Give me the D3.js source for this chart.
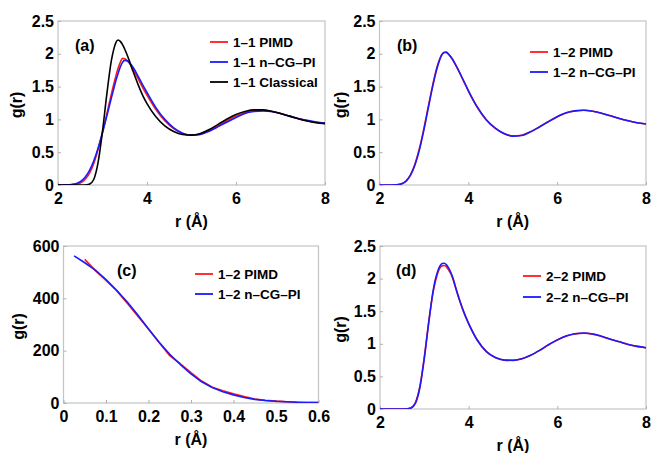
<!DOCTYPE html>
<html>
<head>
<meta charset="utf-8">
<script src="https://cdn.jsdelivr.net/npm/d3@7"></script>
<style>
  html, body { margin: 0; padding: 0; background: #fff; }
  svg { display: block; }
  text { font-family: "Liberation Sans", Arial, Helvetica, sans-serif; font-weight: bold; fill: #000; }
</style>
</head>
<body>
<svg id="fig" width="651" height="453"></svg>
<script>
// ---- radial grid (Å) shared by panels (a), (b), (d) ----
const rGrid = [2.0, 2.1, 2.2, 2.3, 2.4, 2.5, 2.6, 2.7, 2.8, 2.9, 3.0, 3.1, 3.2,
  3.25, 3.3, 3.35, 3.4, 3.45, 3.5, 3.55, 3.6, 3.65, 3.7, 3.8, 3.9, 4.0,
  4.2, 4.4, 4.6, 4.8, 5.0, 5.2, 5.4, 5.6, 5.8, 6.0, 6.2, 6.4, 6.6, 6.8,
  7.0, 7.2, 7.4, 7.6, 7.8, 8.0];

// (a) 1–1 pair
const g11Pimd = [0, 0, 0, 0.002, 0.01, 0.03, 0.08, 0.17, 0.32, 0.54, 0.80, 1.09, 1.39,
  1.53, 1.66, 1.78, 1.87, 1.93, 1.925, 1.90, 1.86, 1.81, 1.75, 1.62, 1.49, 1.37,
  1.15, 0.98, 0.86, 0.785, 0.76, 0.775, 0.83, 0.90, 0.98, 1.05, 1.10, 1.13, 1.135, 1.12,
  1.09, 1.05, 1.01, 0.98, 0.955, 0.94];
const g11Cg = [0, 0, 0.002, 0.008, 0.02, 0.05, 0.11, 0.21, 0.36, 0.56, 0.80, 1.06, 1.33,
  1.46, 1.59, 1.70, 1.80, 1.87, 1.90, 1.895, 1.87, 1.83, 1.78, 1.66, 1.53, 1.41,
  1.18, 1.00, 0.87, 0.79, 0.76, 0.77, 0.82, 0.89, 0.96, 1.03, 1.09, 1.12, 1.13, 1.12,
  1.09, 1.05, 1.015, 0.985, 0.96, 0.945];
const g11Classical = [0, 0, 0, 0, 0, 0, 0, 0.01, 0.08, 0.34, 0.82, 1.40, 1.90,
  2.06, 2.17, 2.21, 2.19, 2.14, 2.07, 1.99, 1.90, 1.80, 1.71, 1.53, 1.37, 1.24,
  1.04, 0.90, 0.815, 0.77, 0.76, 0.785, 0.845, 0.925, 1.005, 1.075, 1.12, 1.145, 1.145, 1.125,
  1.09, 1.05, 1.01, 0.975, 0.95, 0.935];

// (b) 1–2 pair
const g12Pimd = [0, 0, 0, 0.001, 0.005, 0.02, 0.065, 0.16, 0.325, 0.56, 0.865, 1.20, 1.53,
  1.68, 1.81, 1.91, 1.985, 2.02, 2.02, 1.995, 1.955, 1.905, 1.845, 1.715, 1.575, 1.435,
  1.185, 0.995, 0.868, 0.785, 0.748, 0.758, 0.812, 0.886, 0.966, 1.04, 1.098, 1.13, 1.14, 1.125,
  1.095, 1.055, 1.015, 0.98, 0.95, 0.93];
const g12Cg = [0, 0, 0, 0.001, 0.004, 0.018, 0.06, 0.15, 0.31, 0.54, 0.84, 1.18, 1.51,
  1.66, 1.79, 1.90, 1.98, 2.02, 2.025, 2.00, 1.96, 1.91, 1.85, 1.72, 1.58, 1.44,
  1.19, 1.00, 0.87, 0.785, 0.745, 0.755, 0.81, 0.885, 0.965, 1.04, 1.10, 1.13, 1.14, 1.125,
  1.095, 1.055, 1.015, 0.98, 0.95, 0.93];

// (d) 2–2 pair
const g22Pimd = [0, 0, 0, 0, 0, 0, 0.002, 0.02, 0.10, 0.35, 0.80, 1.34, 1.80,
  1.96, 2.08, 2.16, 2.195, 2.20, 2.18, 2.13, 2.07, 1.98, 1.87, 1.655, 1.465, 1.31,
  1.05, 0.88, 0.79, 0.752, 0.75, 0.772, 0.826, 0.90, 0.984, 1.058, 1.118, 1.152, 1.162, 1.148,
  1.113, 1.07, 1.03, 0.99, 0.96, 0.94];
const g22Cg = [0, 0, 0, 0, 0, 0, 0.001, 0.015, 0.09, 0.33, 0.78, 1.33, 1.82,
  1.99, 2.11, 2.19, 2.23, 2.235, 2.21, 2.16, 2.09, 2.00, 1.88, 1.66, 1.47, 1.31,
  1.05, 0.88, 0.79, 0.75, 0.745, 0.77, 0.825, 0.90, 0.985, 1.06, 1.12, 1.155, 1.165, 1.15,
  1.115, 1.07, 1.03, 0.99, 0.96, 0.94];

// (c) 1–2 short-range distribution
const rCPimd = [0.05, 0.075, 0.1, 0.125, 0.15, 0.175, 0.2, 0.225, 0.25, 0.275, 0.3, 0.325,
  0.35, 0.375, 0.4, 0.425, 0.45, 0.475, 0.5, 0.525, 0.55, 0.575, 0.6];
const gCPimd = [549, 506, 468, 429, 381, 332, 283, 231, 181, 150, 116, 84,
  60, 47, 35, 25, 15, 10, 7, 5, 3, 2, 1.5];
const rCCg = [0.025, 0.05, 0.075, 0.1, 0.125, 0.15, 0.175, 0.2, 0.225, 0.25, 0.275, 0.3, 0.325,
  0.35, 0.375, 0.4, 0.425, 0.45, 0.475, 0.5, 0.525, 0.55, 0.575, 0.6];
const gCCg = [562, 536, 508, 472, 431, 386, 336, 283, 232, 186, 147, 111, 81,
  59, 43, 31, 21, 14, 9.5, 6.5, 4.5, 3, 2, 1.5];

// axis ticks
const rTicks = [2, 4, 6, 8];
const gTicks = [0, 0.5, 1, 1.5, 2, 2.5];
const rTicksC = [0, 0.1, 0.2, 0.3, 0.4, 0.5, 0.6];
const gTicksC = [0, 200, 400, 600];

// legend entries per panel
const legendA = ["1\u20131 PIMD", "1\u20131 n\u2013CG\u2013PI", "1\u20131 Classical"];
const legendB = ["1\u20132 PIMD", "1\u20132 n\u2013CG\u2013PI"];
const legendC = ["1\u20132 PIMD", "1\u20132 n\u2013CG\u2013PI"];
const legendD = ["2\u20132 PIMD", "2\u20132 n\u2013CG\u2013PI"];

const RED = "#ff1a1a", BLUE = "#1a1aff", BLACK = "#000000";
const zip = (xs, ys) => xs.map((x, i) => [x, ys[i]]);

const svg = d3.select("#fig");

function panel(cfg) {
  const { left, right, top, bottom } = cfg.box;
  const x = d3.scaleLinear().domain(cfg.xDomain).range([left, right]);
  const y = d3.scaleLinear().domain(cfg.yDomain).range([bottom, top]);
  const g = svg.append("g");
  const clipId = "clip-" + cfg.tag;
  g.append("clipPath").attr("id", clipId).append("rect")
    .attr("x", left).attr("y", top - 2).attr("width", right - left).attr("height", bottom - top + 2);

  // frame
  g.append("rect").attr("x", left).attr("y", top)
    .attr("width", right - left).attr("height", bottom - top)
    .attr("fill", "none").attr("stroke", "#c4c4c4").attr("stroke-width", 1.2);

  // bottom axis: inward ticks, bold labels
  const xAxis = d3.axisBottom(x).tickValues(cfg.xTicks).tickSize(-3).tickPadding(8)
    .tickFormat(d => d3.format("")(d));
  const gx = g.append("g").attr("transform", `translate(0,${bottom})`).call(xAxis);
  gx.select(".domain").remove();
  gx.selectAll(".tick line").attr("stroke", "#b0b0b0");
  gx.selectAll(".tick text").attr("font-size", 16).attr("font-weight", "bold")
    .attr("font-family", '"Liberation Sans", Arial, sans-serif').attr("fill", "#000");

  const yAxis = d3.axisLeft(y).tickValues(cfg.yTicks).tickSize(-3).tickPadding(4)
    .tickFormat(d => d3.format("")(d));
  const gy = g.append("g").attr("transform", `translate(${left},0)`).call(yAxis);
  gy.select(".domain").remove();
  gy.selectAll(".tick line").attr("stroke", "#b0b0b0");
  gy.selectAll(".tick text").attr("font-size", 16).attr("font-weight", "bold")
    .attr("font-family", '"Liberation Sans", Arial, sans-serif').attr("fill", "#000");

  // axis titles
  g.append("text").attr("x", (left + right) / 2).attr("y", bottom + 41.5)
    .attr("text-anchor", "middle").attr("font-size", 16).text("r (\u00c5)");
  g.append("text").attr("transform", `translate(${cfg.yTitleX},${(top + bottom) / 2 + 2}) rotate(-90)`)
    .attr("text-anchor", "middle").attr("font-size", 16).text("g(r)");

  // curves
  const line = d3.line().x(d => x(d[0])).y(d => y(d[1])).curve(cfg.curve);
  const lines = g.append("g").attr("clip-path", `url(#${clipId})`);
  cfg.series.forEach(s => {
    lines.append("path").datum(s.data).attr("d", line)
      .attr("fill", "none").attr("stroke", s.color).attr("stroke-width", 1.6)
      .attr("stroke-linejoin", "round");
  });

  // panel tag
  g.append("text").attr("x", cfg.tagPos[0]).attr("y", cfg.tagPos[1])
    .attr("font-size", 16).text(`(${cfg.tag})`);

  // legend
  const lg = g.append("g");
  cfg.legend.forEach((label, i) => {
    const ly = cfg.legendPos[1] + i * cfg.legendGap;
    lg.append("line").attr("x1", cfg.legendPos[0]).attr("x2", cfg.legendPos[0] + 18)
      .attr("y1", ly).attr("y2", ly)
      .attr("stroke", cfg.legendColors[i]).attr("stroke-width", 1.8);
    lg.append("text").attr("x", cfg.legendPos[0] + 23).attr("y", ly).attr("dy", "0.36em")
      .attr("font-size", 13.5).text(label);
  });
}

panel({
  tag: "a", box: { left: 58, right: 325, top: 21, bottom: 185 },
  xDomain: [2, 8], yDomain: [0, 2.5], xTicks: rTicks, yTicks: gTicks,
  curve: d3.curveMonotoneX, yTitleX: 22,
  series: [
    { data: zip(rGrid, g11Pimd), color: RED },
    { data: zip(rGrid, g11Cg), color: BLUE },
    { data: zip(rGrid, g11Classical), color: BLACK }
  ],
  tagPos: [75, 51], legend: legendA, legendColors: [RED, BLUE, BLACK],
  legendPos: [210, 42], legendGap: 20
});

panel({
  tag: "b", box: { left: 379.5, right: 646, top: 21, bottom: 185 },
  xDomain: [2, 8], yDomain: [0, 2.5], xTicks: rTicks, yTicks: gTicks,
  curve: d3.curveMonotoneX, yTitleX: 346,
  series: [
    { data: zip(rGrid, g12Pimd), color: RED },
    { data: zip(rGrid, g12Cg), color: BLUE }
  ],
  tagPos: [397, 51], legend: legendB, legendColors: [RED, BLUE],
  legendPos: [530, 52], legendGap: 20
});

panel({
  tag: "c", box: { left: 63.5, right: 318.5, top: 246, bottom: 403 },
  xDomain: [0, 0.6], yDomain: [0, 600], xTicks: rTicksC, yTicks: gTicksC,
  curve: d3.curveLinear, yTitleX: 24,
  series: [
    { data: zip(rCPimd, gCPimd), color: RED },
    { data: zip(rCCg, gCCg), color: BLUE }
  ],
  tagPos: [117, 276], legend: legendC, legendColors: [RED, BLUE],
  legendPos: [195, 274], legendGap: 20
});

panel({
  tag: "d", box: { left: 380, right: 646, top: 246, bottom: 409 },
  xDomain: [2, 8], yDomain: [0, 2.5], xTicks: rTicks, yTicks: gTicks,
  curve: d3.curveMonotoneX, yTitleX: 346,
  series: [
    { data: zip(rGrid, g22Pimd), color: RED },
    { data: zip(rGrid, g22Cg), color: BLUE }
  ],
  tagPos: [396, 276], legend: legendD, legendColors: [RED, BLUE],
  legendPos: [523, 276], legendGap: 21
});
</script>
</body>
</html>
